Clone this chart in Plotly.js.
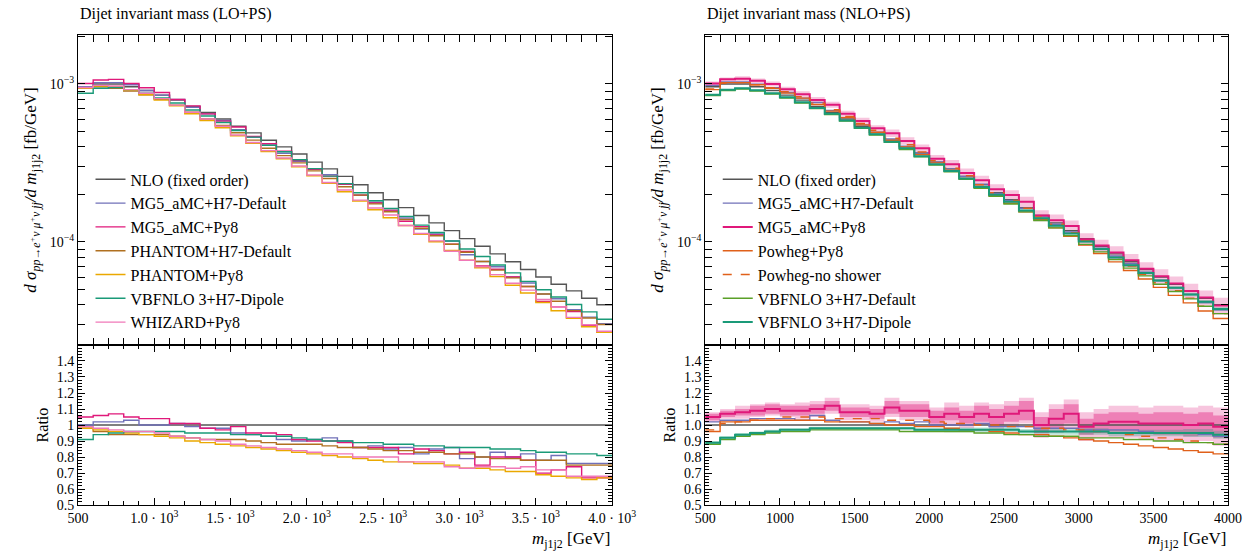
<!DOCTYPE html>
<html><head><meta charset="utf-8">
<script src="https://cdn.plot.ly/plotly-3.0.1.min.js"></script>
<style>body{margin:0;background:#fff}</style></head>
<body><div id="plot" style="width:1257px;height:560px"></div>
<script>
// bin edges 500..4000 GeV, 100 GeV wide
const edges = [];
for (let e = 500; e <= 4000; e += 100) edges.push(e);

// NLO fixed order reference (fb/GeV)
const nlo = [9.6e-4,1.0e-3,1.0e-3,9.6e-4,9.1e-4,8.5e-4,7.9e-4,7.2e-4,6.6e-4,6.0e-4,5.4e-4,4.9e-4,4.4e-4,4.0e-4,3.6e-4,3.2e-4,2.9e-4,2.6e-4,2.3e-4,2.05e-4,1.85e-4,1.65e-4,1.47e-4,1.32e-4,1.18e-4,1.05e-4,9.4e-5,8.4e-5,7.5e-5,6.7e-5,6.0e-5,5.4e-5,4.9e-5,4.4e-5,4.0e-5];

// LO+PS ratios to NLO
const loMgH7 = [1.00,1.02,1.02,1.03,1.00,1.00,1.01,0.99,0.98,0.98,0.95,0.94,0.93,0.91,0.90,0.91,0.92,0.90,0.86,0.87,0.85,0.86,0.82,0.85,0.86,0.79,0.80,0.83,0.80,0.82,0.78,0.81,0.76,0.76,0.76];
const loMgPy8 = [1.05,1.06,1.07,1.05,1.04,1.04,1.01,1.01,0.98,0.97,0.99,0.95,0.95,0.94,0.91,0.90,0.90,0.89,0.86,0.86,0.86,0.82,0.85,0.84,0.82,0.83,0.75,0.80,0.80,0.78,0.70,0.72,0.74,0.67,0.67];
const loPhH7 = [0.98,0.96,0.94,0.94,0.94,0.94,0.93,0.92,0.91,0.91,0.91,0.90,0.89,0.88,0.88,0.88,0.87,0.86,0.86,0.85,0.84,0.84,0.83,0.83,0.82,0.82,0.80,0.79,0.79,0.78,0.78,0.78,0.75,0.75,0.75];
const loPhPy8 = [0.98,0.97,0.96,0.95,0.94,0.93,0.92,0.90,0.89,0.88,0.87,0.86,0.85,0.84,0.83,0.82,0.81,0.80,0.79,0.78,0.77,0.77,0.76,0.76,0.75,0.73,0.73,0.72,0.71,0.71,0.69,0.68,0.67,0.66,0.67];
const loVbfDip = [0.91,0.94,0.95,0.96,0.96,0.96,0.96,0.95,0.95,0.95,0.94,0.94,0.93,0.93,0.92,0.91,0.90,0.90,0.89,0.89,0.88,0.88,0.87,0.87,0.86,0.86,0.86,0.85,0.85,0.84,0.83,0.83,0.82,0.82,0.81];
const loWhiz = [0.99,0.98,0.97,0.96,0.96,0.95,0.93,0.92,0.91,0.90,0.88,0.87,0.86,0.85,0.84,0.83,0.82,0.82,0.80,0.80,0.80,0.77,0.77,0.77,0.74,0.73,0.74,0.74,0.73,0.74,0.72,0.72,0.68,0.68,0.68];

// NLO+PS ratios to NLO
const nMgH7 = [1.02,1.03,1.03,1.04,1.04,1.04,1.03,1.06,1.03,1.02,1.02,1.01,1.02,1.01,1.02,1.00,1.00,1.00,1.01,0.99,0.99,0.99,0.98,0.98,0.98,0.97,0.97,0.97,0.97,0.96,0.95,0.95,0.95,0.94,0.93];
const nMgPy8 = [1.05,1.07,1.08,1.09,1.10,1.09,1.09,1.10,1.12,1.08,1.08,1.07,1.11,1.09,1.09,1.05,1.07,1.05,1.07,1.05,1.07,1.09,1.00,1.04,1.07,0.99,1.01,1.02,1.02,1.01,1.01,1.01,1.00,1.01,0.99];
const nMgPy8Err = [0.02,0.02,0.02,0.03,0.03,0.03,0.03,0.03,0.03,0.03,0.03,0.03,0.04,0.04,0.04,0.04,0.04,0.04,0.05,0.05,0.05,0.06,0.05,0.06,0.06,0.05,0.06,0.06,0.06,0.06,0.07,0.07,0.07,0.07,0.07];
const nMgPy8Err2 = [0.03,0.03,0.04,0.04,0.04,0.04,0.05,0.05,0.05,0.05,0.05,0.05,0.06,0.06,0.06,0.06,0.07,0.07,0.07,0.08,0.08,0.08,0.08,0.09,0.09,0.09,0.09,0.10,0.10,0.10,0.11,0.11,0.11,0.11,0.12];
const nPowPy8 = [0.96,1.02,1.02,1.03,1.03,1.03,1.03,1.03,1.02,1.02,1.02,1.01,1.00,1.00,0.99,0.99,0.98,0.97,0.97,0.96,0.95,0.94,0.94,0.93,0.92,0.91,0.90,0.89,0.88,0.87,0.86,0.85,0.84,0.83,0.82];
const nPowNoSh = [0.97,1.01,1.02,1.03,1.04,1.05,1.05,1.05,1.04,1.04,1.04,1.04,1.03,1.03,1.03,1.02,1.01,1.01,1.00,1.00,0.99,0.99,0.98,0.98,0.97,0.97,0.96,0.95,0.94,0.93,0.92,0.91,0.90,0.89,0.88];
const nVbfDef = [0.88,0.91,0.93,0.94,0.95,0.96,0.96,0.97,0.97,0.97,0.97,0.97,0.97,0.96,0.96,0.96,0.96,0.96,0.95,0.95,0.94,0.94,0.93,0.93,0.93,0.92,0.92,0.92,0.91,0.91,0.90,0.90,0.89,0.89,0.88];
const nVbfDip = [0.89,0.92,0.94,0.95,0.96,0.97,0.97,0.98,0.98,0.98,0.98,0.98,0.98,0.98,0.97,0.97,0.97,0.97,0.97,0.97,0.97,0.96,0.96,0.96,0.96,0.96,0.96,0.95,0.95,0.95,0.95,0.95,0.95,0.95,0.94];
const nVbfDipErr = [0.01,0.01,0.01,0.01,0.01,0.01,0.01,0.01,0.01,0.01,0.01,0.01,0.01,0.01,0.01,0.01,0.015,0.015,0.015,0.015,0.015,0.015,0.015,0.02,0.02,0.02,0.02,0.02,0.02,0.02,0.02,0.02,0.025,0.025,0.025];

const C = {nlo:'#555555', mgH7:'#7070b8', mgPy8:'#e0187a', phH7:'#b07020', phPy8:'#eaa800',
           vbfDip:'#1a9a78', whiz:'#f078b8', pow:'#e0601a', vbfDef:'#5aa028'};

const step = a => a.concat([a[a.length - 1]]);
const traces = [];

function curve(ratio, color, name, side, opts = {}) {
  const xa = side === 'L' ? 'x' : 'x2';
  const ym = side === 'L' ? 'y' : 'y3';
  const yr = side === 'L' ? 'y2' : 'y4';
  const main = ratio.map((r, i) => r * nlo[i]);
  const line = {color: color, width: opts.width || 1.4, shape: 'hv', dash: opts.dash || 'solid'};
  traces.push({x: edges, y: step(main), xaxis: xa, yaxis: ym, mode: 'lines', line: line, name: name,
               legend: side === 'L' ? 'legend' : 'legend2', showlegend: true});
  traces.push({x: edges, y: step(ratio), xaxis: xa, yaxis: yr, mode: 'lines', line: line, showlegend: false});
}

function band(ratio, err, fill, side, inMain) {
  const xa = side === 'L' ? 'x' : 'x2';
  const lo = ratio.map((r, i) => r - err[i]), hi = ratio.map((r, i) => r + err[i]);
  const sets = [[lo, hi, side === 'L' ? 'y2' : 'y4']];
  if (inMain) sets.push([lo.map((v, i) => v * nlo[i]), hi.map((v, i) => v * nlo[i]), side === 'L' ? 'y' : 'y3']);
  sets.forEach(([l, h, ya]) => {
    traces.push({x: edges, y: step(l), xaxis: xa, yaxis: ya, mode: 'lines', line: {width: 0, shape: 'hv'}, showlegend: false, hoverinfo: 'skip'});
    traces.push({x: edges, y: step(h), xaxis: xa, yaxis: ya, mode: 'lines', line: {width: 0, shape: 'hv'}, fill: 'tonexty', fillcolor: fill, showlegend: false, hoverinfo: 'skip'});
  });
}

const ones = nlo.map(() => 1);
// left panel
curve(ones, C.nlo, 'NLO (fixed order)', 'L');
curve(loMgH7, C.mgH7, 'MG5_aMC+H7-Default', 'L');
curve(loMgPy8, C.mgPy8, 'MG5_aMC+Py8', 'L');
curve(loPhH7, C.phH7, 'PHANTOM+H7-Default', 'L');
curve(loPhPy8, C.phPy8, 'PHANTOM+Py8', 'L');
curve(loVbfDip, C.vbfDip, 'VBFNLO 3+H7-Dipole', 'L');
curve(loWhiz, C.whiz, 'WHIZARD+Py8', 'L');
// right panel
band(nMgPy8, nMgPy8Err2, 'rgba(224,24,122,0.25)', 'R', true);
band(nMgPy8, nMgPy8Err, 'rgba(224,24,122,0.4)', 'R', false);
band(nVbfDip, nVbfDipErr, 'rgba(26,154,120,0.3)', 'R', true);
curve(ones, C.nlo, 'NLO (fixed order)', 'R');
curve(nMgH7, C.mgH7, 'MG5_aMC+H7-Default', 'R');
curve(nMgPy8, C.mgPy8, 'MG5_aMC+Py8', 'R', {width: 2});
curve(nPowPy8, C.pow, 'Powheg+Py8', 'R');
curve(nPowNoSh, C.pow, 'Powheg-no shower', 'R', {dash: 'dash'});
curve(nVbfDef, C.vbfDef, 'VBFNLO 3+H7-Default', 'R');
curve(nVbfDip, C.vbfDip, 'VBFNLO 3+H7-Dipole', 'R', {width: 2});

const F = 'Liberation Serif, DejaVu Serif, serif';
const axBase = {showline: true, linecolor: '#000', linewidth: 1, mirror: 'allticks', ticks: 'inside',
                tickcolor: '#000', ticklen: 7, zeroline: false, showgrid: false, tickfont: {family: F, size: 14, color: '#000'}};
const xMinor = {ticks: 'inside', ticklen: 4, dtick: 100, tickcolor: '#000'};
const leftTicks = [500, 1000, 1500, 2000, 2500, 3000, 3500, 4000];
const leftText = ['500', '1.0 · 10<sup>3</sup>', '1.5 · 10<sup>3</sup>', '2.0 · 10<sup>3</sup>', '2.5 · 10<sup>3</sup>', '3.0 · 10<sup>3</sup>', '3.5 · 10<sup>3</sup>', '4.0 · 10<sup>3</sup>'];
const rightText = ['500', '1000', '1500', '2000', '2500', '3000', '3500', '4000'];
const ratioTicks = [0.5, 0.6, 0.7, 0.8, 0.9, 1.0, 1.1, 1.2, 1.3, 1.4];
const ratioL = ['0.5', '0.6', '0.7', '0.8', '0.9', '1', '1.1', '1.2', '1.3', '1.4'];
const ratioR = ['0.5', '0.6', '0.7', '0.8', '0.9', '1.0', '1.1', '1.2', '1.3', '1.4'];
const logTicks = [3e-5, 4e-5, 5e-5, 6e-5, 7e-5, 8e-5, 9e-5, 1e-4, 2e-4, 3e-4, 4e-4, 5e-4, 6e-4, 7e-4, 8e-4, 9e-4, 1e-3, 2e-3];
const logText = logTicks.map(v => v === 1e-4 ? '10<sup>−4</sup>' : v === 1e-3 ? '10<sup>−3</sup>' : '');
const logMain = Object.assign({}, axBase, {type: 'log', range: [-4.652, -2.69], tickvals: logTicks, ticktext: logText});
const ytitle = '<i>d σ<sub>pp→e<sup>+</sup>ν μ<sup>+</sup>ν jj</sub>/d m</i><sub>j1j2</sub> [fb/GeV]';
const ratioAx = t => Object.assign({}, axBase, {range: [0.5, 1.5], tickvals: ratioTicks, ticktext: t,
                minor: {ticks: 'inside', ticklen: 4, dtick: 0.02, tickcolor: '#000'},
                title: {text: 'Ratio', font: {family: F, size: 16}, standoff: 4}});

const legendBase = {y: 0.71, xanchor: 'left', yanchor: 'top', bgcolor: 'rgba(0,0,0,0)', traceorder: 'normal',
                    font: {family: F, size: 16}, tracegroupgap: 0, itemwidth: 30};

const layout = {
  width: 1257, height: 560, margin: {l: 0, r: 0, t: 0, b: 0},
  paper_bgcolor: '#fff', plot_bgcolor: '#fff', font: {family: F, size: 15, color: '#000'},
  xaxis: Object.assign({}, axBase, {domain: [0.062, 0.487], range: [500, 4000], anchor: 'y2', tickvals: leftTicks, ticktext: leftText, minor: xMinor}),
  xaxis2: Object.assign({}, axBase, {domain: [0.561, 0.977], range: [500, 4000], anchor: 'y4', tickvals: leftTicks, ticktext: rightText, minor: xMinor}),
  yaxis: Object.assign({}, logMain, {domain: [0.384, 0.9375], anchor: 'x', title: {text: ytitle, font: {family: F, size: 17}, standoff: 8}}),
  yaxis2: Object.assign(ratioAx(ratioL), {domain: [0.098, 0.384], anchor: 'x'}),
  yaxis3: Object.assign({}, logMain, {domain: [0.384, 0.9375], anchor: 'x2', title: {text: ytitle, font: {family: F, size: 17}, standoff: 8}}),
  yaxis4: Object.assign(ratioAx(ratioR), {domain: [0.098, 0.384], anchor: 'x2'}),
  legend: Object.assign({x: 0.072}, legendBase),
  legend2: Object.assign({x: 0.571}, legendBase),
  annotations: [
    {text: 'Dijet invariant mass (LO+PS)', xref: 'paper', yref: 'paper', x: 0.062, y: 0.995, xanchor: 'left', yanchor: 'top', showarrow: false, font: {family: F, size: 16}},
    {text: 'Dijet invariant mass (NLO+PS)', xref: 'paper', yref: 'paper', x: 0.561, y: 0.995, xanchor: 'left', yanchor: 'top', showarrow: false, font: {family: F, size: 16}},
    {text: '<i>m</i><sub>j1j2</sub> [GeV]', xref: 'paper', yref: 'paper', x: 0.487, y: 0.012, xanchor: 'right', yanchor: 'bottom', showarrow: false, font: {family: F, size: 17}},
    {text: '<i>m</i><sub>j1j2</sub> [GeV]', xref: 'paper', yref: 'paper', x: 0.977, y: 0.012, xanchor: 'right', yanchor: 'bottom', showarrow: false, font: {family: F, size: 17}}
  ]
};

Plotly.newPlot('plot', traces, layout, {displayModeBar: false, staticPlot: true});
</script></body></html>
